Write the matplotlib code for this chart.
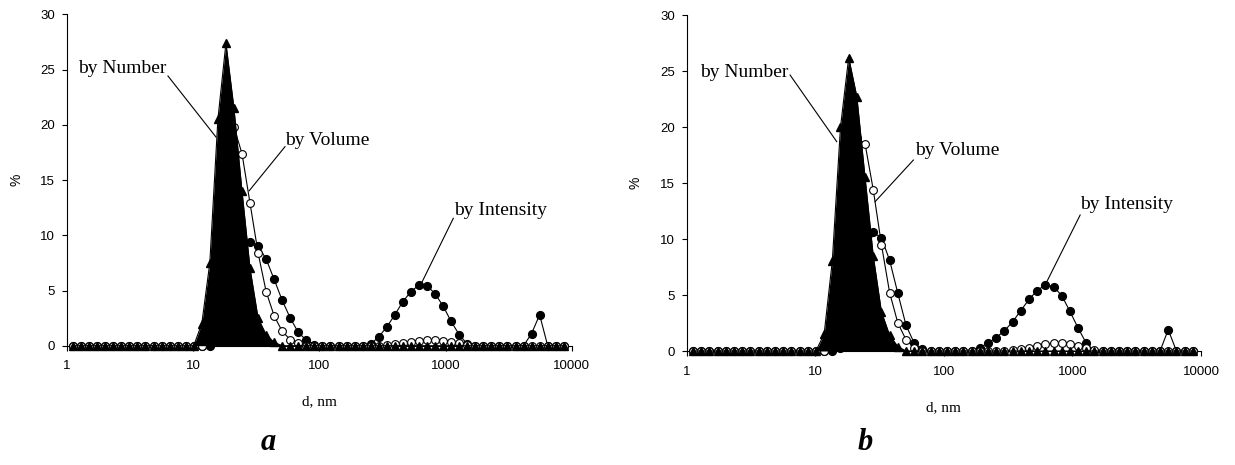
import matplotlib
matplotlib.use("Agg")
import matplotlib.pyplot as plt
from matplotlib.ticker import FixedLocator, FixedFormatter, NullLocator

plt.rcParams['font.family'] = ['Liberation Sans', 'DejaVu Sans']

# Size classes (nm) of the DLS size distribution
sizes = [1.117, 1.294, 1.499, 1.736, 2.010, 2.328, 2.696, 3.122,
         3.615, 4.187, 4.849, 5.615, 6.503, 7.531, 8.721, 10.10,
         11.70, 13.54, 15.69, 18.17, 21.04, 24.36, 28.21, 32.67,
         37.84, 43.82, 50.75, 58.77, 68.06, 78.82, 91.28, 105.7,
         122.4, 141.8, 164.2, 190.1, 220.2, 255.0, 295.3, 342.0,
         396.1, 458.7, 531.2, 615.1, 712.4, 825.0, 955.4, 1106,
         1281, 1484, 1718, 1990, 2305, 2669, 3091, 3580,
         4145, 4801, 5560, 6439, 7456, 8635]

# Sample a, % per size class
number_a = [0, 0, 0, 0, 0, 0, 0, 0,
            0, 0, 0, 0, 0, 0, 0, 0,
            2.0, 7.5, 20.5, 27.4, 21.5, 14.0, 7.0, 2.5,
            1.0, 0.3, 0, 0, 0, 0, 0, 0,
            0, 0, 0, 0, 0, 0, 0, 0,
            0, 0, 0, 0, 0, 0, 0, 0,
            0, 0, 0, 0, 0, 0, 0, 0,
            0, 0, 0, 0, 0, 0]
volume_a = [0, 0, 0, 0, 0, 0, 0, 0,
            0, 0, 0, 0, 0, 0, 0, 0,
            0, 1.5, 7.0, 15.0, 19.8, 17.4, 12.9, 8.4,
            4.9, 2.7, 1.3, 0.55, 0.2, 0, 0, 0,
            0, 0, 0, 0, 0, 0, 0, 0.05,
            0.15, 0.25, 0.35, 0.45, 0.5, 0.5, 0.45, 0.35,
            0.2, 0.1, 0, 0, 0, 0, 0, 0,
            0, 0, 0, 0, 0, 0]
intensity_a = [0, 0, 0, 0, 0, 0, 0, 0,
               0, 0, 0, 0, 0, 0, 0, 0,
               0, 0, 0.5, 2.0, 5.0, 8.5, 9.4, 9.05,
               7.85, 6.0, 4.1, 2.5, 1.2, 0.5, 0.1, 0,
               0, 0, 0, 0, 0, 0.15, 0.8, 1.7,
               2.8, 4.0, 4.9, 5.5, 5.45, 4.7, 3.6, 2.2,
               1.0, 0.15, 0, 0, 0, 0, 0, 0,
               0, 1.1, 2.8, 0, 0, 0]

# Sample b, % per size class
number_b = [0, 0, 0, 0, 0, 0, 0, 0,
            0, 0, 0, 0, 0, 0, 0, 0,
            1.5, 8.0, 20.0, 26.2, 22.7, 15.5, 8.5, 3.5,
            1.4, 0.4, 0, 0, 0, 0, 0, 0,
            0, 0, 0, 0, 0, 0, 0, 0,
            0, 0, 0, 0, 0, 0, 0, 0,
            0, 0, 0, 0, 0, 0, 0, 0,
            0, 0, 0, 0, 0, 0]
volume_b = [0, 0, 0, 0, 0, 0, 0, 0,
            0, 0, 0, 0, 0, 0, 0, 0,
            0, 1.0, 5.0, 13.0, 19.0, 18.5, 14.4, 9.5,
            5.2, 2.5, 1.0, 0.3, 0, 0, 0, 0,
            0, 0, 0, 0, 0, 0, 0, 0.05,
            0.15, 0.3, 0.45, 0.6, 0.7, 0.7, 0.6, 0.45,
            0.25, 0.1, 0, 0, 0, 0, 0, 0,
            0, 0, 0, 0, 0, 0]
intensity_b = [0, 0, 0, 0, 0, 0, 0, 0,
               0, 0, 0, 0, 0, 0, 0, 0,
               0, 0, 0.3, 1.5, 4.0, 8.0, 10.6, 10.1,
               8.1, 5.15, 2.3, 0.7, 0.15, 0, 0, 0,
               0, 0, 0, 0.3, 0.7, 1.2, 1.8, 2.6,
               3.6, 4.6, 5.4, 5.9, 5.75, 4.95, 3.55, 2.05,
               0.7, 0, 0, 0, 0, 0, 0, 0,
               0, 0, 1.9, 0, 0, 0]

x_ticks = [1, 10, 100, 1000, 10000]
x_tick_labels = ['1', '10', '100', '1000', '10000']
y_ticks = [0, 5, 10, 15, 20, 25, 30]

# Callouts: text, text anchor (left/centre), leader start, leader end (data units)
notes_a = [
    ("by Number", (1.22, 25.15), (6.31, 24.43), (15.16, 18.9)),
    ("by Volume", (53.4, 18.63), (53.4, 18.03), (27.8, 14.04)),
    ("by Intensity", (1166, 12.29), (1151, 11.54), (646.7, 5.71)),
]
notes_b = [
    ("by Number", (1.27, 24.9), (6.36, 24.64), (14.67, 18.69)),
    ("by Volume", (59.7, 17.86), (57.9, 17.05), (29.15, 13.33)),
    ("by Intensity", (1148, 13.04), (1148, 12.14), (632, 6.19)),
]

W, H = 1235, 465
fig = plt.figure(figsize=(W / 100, H / 100), dpi=100)


def make_axes(left, right, y_zero, y_top):
    return fig.add_axes([left / W, 1 - y_zero / H,
                         (right - left) / W, (y_zero - y_top) / H])


def draw_panel(ax, number, volume, intensity, notes):
    ax.set_xscale('log')
    ax.set_xlim(1, 10000)
    ax.set_ylim(0, 30)

    ax.plot(sizes, intensity, '-o', color='black', mfc='black', mec='black',
            ms=5.6, lw=0.8, clip_on=False, zorder=3)
    ax.plot(sizes, volume, '-o', color='black', mfc='white', mec='black',
            ms=5.6, mew=0.8, lw=0.8, clip_on=False, zorder=4)
    ax.fill_between(sizes, number, 0, color='black', lw=0, zorder=5)
    ax.plot(sizes, number, '-^', color='black', mfc='black', mec='black',
            ms=5.2, lw=0.8, clip_on=False, zorder=6)

    for spine in ('top', 'right'):
        ax.spines[spine].set_visible(False)
    for spine in ('left', 'bottom'):
        ax.spines[spine].set_linewidth(0.8)
        ax.spines[spine].set_color('black')

    ax.xaxis.set_major_locator(FixedLocator(x_ticks))
    ax.xaxis.set_major_formatter(FixedFormatter(x_tick_labels))
    ax.xaxis.set_minor_locator(NullLocator())
    ax.yaxis.set_major_locator(FixedLocator(y_ticks))
    ax.tick_params(axis='both', direction='out', length=3.5, width=0.8,
                   labelsize=9.5, colors='black')
    ax.tick_params(axis='x', pad=7)
    ax.tick_params(axis='y', pad=5)

    ax.set_xlabel('d, nm', family='Liberation Serif', fontsize=11, va='center')
    ax.set_ylabel('%', fontsize=10, va='center')
    ax.xaxis.set_label_coords(0.5, -0.17)
    ax.yaxis.set_label_coords(-0.1, 0.5)

    for text, (tx, ty), (sx, sy), (ex, ey) in notes:
        ax.text(tx, ty, text, family='Liberation Serif', fontsize=14,
                ha='left', va='center', zorder=7)
        ax.plot([sx, ex], [sy, ey], color='black', lw=0.8, zorder=7,
                clip_on=False)


ax_a = make_axes(67, 571.8, 345.7, 14.5)
ax_b = make_axes(686.8, 1201.0, 351.0, 15.0)
draw_panel(ax_a, number_a, volume_a, intensity_a, notes_a)
draw_panel(ax_b, number_b, volume_b, intensity_b, notes_b)

for letter, xpos in (('a', 268), ('b', 865)):
    fig.text(xpos / W, 1 - 442 / H, letter, family='Liberation Serif',
             fontsize=22, fontweight='bold', style='italic',
             ha='center', va='center')

fig.savefig('out.png', dpi=100)
